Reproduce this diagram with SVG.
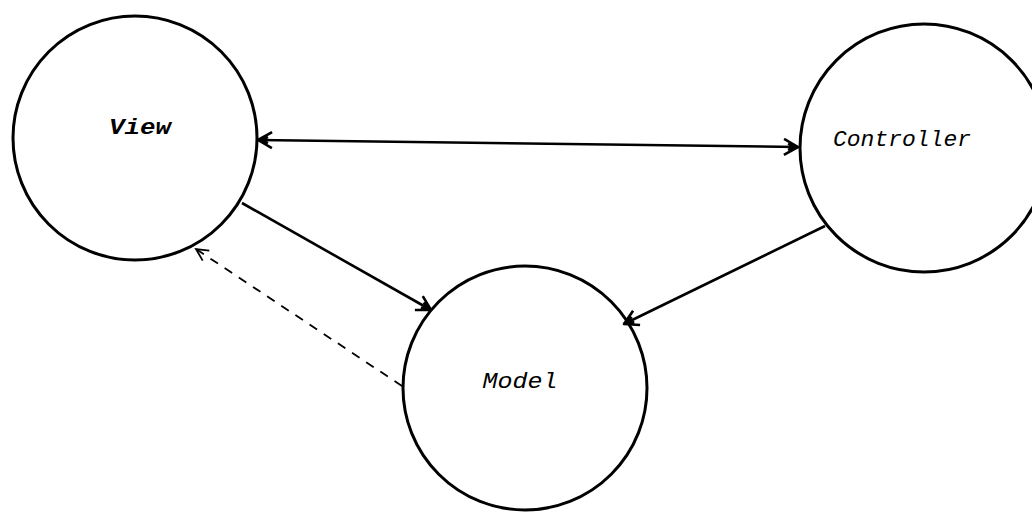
<svg xmlns="http://www.w3.org/2000/svg" width="1032" height="512" viewBox="0 0 1032 512">
<style>
.node circle{fill:none;stroke:#000;stroke-width:3}
.node text{font-family:"Liberation Mono","DejaVu Sans Mono",monospace;font-style:italic;font-size:22px;fill:#000;text-anchor:middle;dominant-baseline:central}
.edge{fill:none;stroke:#000;stroke-width:2.6}
.dash{fill:none;stroke:#000;stroke-width:1.8;stroke-dasharray:9 8}
</style>
<defs>
<marker id="ah" viewBox="-16 -10 20 20" markerWidth="20" markerHeight="20" refX="0" refY="0" orient="auto-start-reverse" markerUnits="userSpaceOnUse">
<path d="M-14,-8 L0,0 L-14,8 M-10,-3 L-3,0 L-10,3" fill="none" stroke="#000" stroke-width="2.6" stroke-linejoin="round"/>
</marker>
<marker id="ahs" viewBox="-16 -10 20 20" markerWidth="20" markerHeight="20" refX="0" refY="0" orient="auto" markerUnits="userSpaceOnUse">
<path d="M-12,-6 L0,0 L-12,6" fill="none" stroke="#000" stroke-width="1.8"/>
</marker>
</defs>
<rect width="1032" height="512" fill="#fff"/>
<g id="view" class="node">
<circle cx="135" cy="138" r="122"/>
<text x="140" y="128" textLength="62" lengthAdjust="spacingAndGlyphs" font-weight="bold">View</text>
</g>
<g id="controller" class="node">
<circle cx="924" cy="148" r="124"/>
<text x="902" y="140" textLength="138" lengthAdjust="spacingAndGlyphs">Controller</text>
</g>
<g id="model" class="node">
<circle cx="525" cy="388" r="122"/>
<text x="520" y="382" textLength="75" lengthAdjust="spacingAndGlyphs">Model</text>
</g>
<g id="connectors">
<line class="edge" x1="258" y1="140" x2="798" y2="147" marker-start="url(#ah)" marker-end="url(#ah)"/>
<line class="edge" x1="242" y1="203" x2="431" y2="310" marker-end="url(#ah)"/>
<line class="edge" x1="825" y1="226" x2="624" y2="324" marker-end="url(#ah)"/>
<line class="dash" x1="402" y1="386" x2="196" y2="249" marker-end="url(#ahs)"/>
</g>
</svg>
